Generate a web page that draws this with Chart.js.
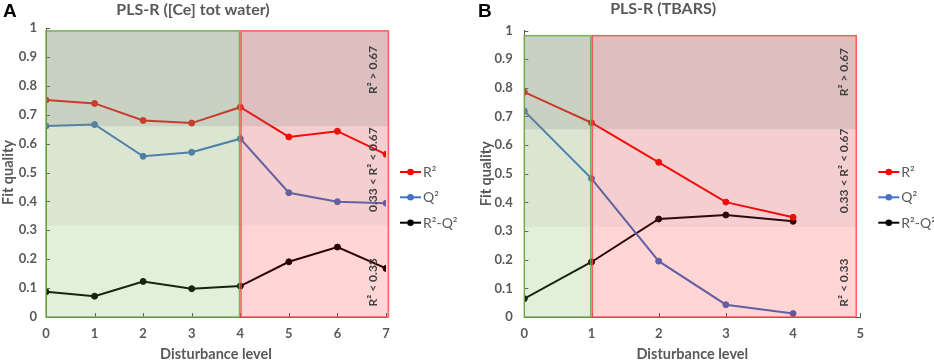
<!DOCTYPE html>
<html><head><meta charset="utf-8">
<script src="https://cdn.jsdelivr.net/npm/chart.js@4.4.1/dist/chart.umd.min.js"></script>
<style>
html,body{margin:0;padding:0;background:#fff;}
#wrap{position:relative;width:934px;height:362px;overflow:hidden;background:#fff;}
canvas{position:absolute;top:0;}
</style></head><body>
<div id="wrap">
<canvas id="cA" width="466" height="362" style="left:0"></canvas>
<canvas id="cB" width="468" height="362" style="left:466px"></canvas>
</div>
<script>
// ---- data ----
const levelsA = [0, 1, 2, 3, 4, 5, 6, 7];
const r2A   = [0.751, 0.739, 0.680, 0.671, 0.726, 0.623, 0.643, 0.563];
const q2A   = [0.661, 0.666, 0.556, 0.570, 0.617, 0.430, 0.399, 0.394];
const diffA = [0.087, 0.072, 0.123, 0.098, 0.107, 0.191, 0.242, 0.168];

const levelsB = [0, 1, 2, 3, 4];
const r2B   = [0.785, 0.678, 0.540, 0.401, 0.348];
const q2B   = [0.719, 0.483, 0.195, 0.043, 0.012];
const diffB = [0.064, 0.192, 0.342, 0.356, 0.334];

const seriesLabels = ['R²', 'Q²', 'R²-Q²'];
const seriesColors = ['#ff0000', '#4472c4', '#000000'];
const zoneNotes = ['R² > 0.67', '0.33 < R² < 0.67', 'R² < 0.33'];
const titleA = 'PLS-R ([Ce] tot water)';
const titleB = 'PLS-R (TBARS)';
const xTitle = 'Disturbance level';
const yTitle = 'Fit quality';

const FONT = 'Lato';
const GREY = '#595959';

function pts(xs, ys) { return xs.map((x, i) => ({ x: x, y: ys[i] })); }

const panelPlugin = {
  id: 'panel',
  afterDatasetsDraw(chart, args, o) {
    const ctx = chart.ctx;
    const xs = chart.scales.x, ys = chart.scales.y;
    const X = v => xs.getPixelForValue(v), Y = v => ys.getPixelForValue(v);
    ctx.save();
    // inside tick marks
    ctx.strokeStyle = GREY; ctx.lineWidth = 1;
    ctx.beginPath();
    for (let v = 0; v <= 10; v++) {
      const y = Math.round(Y(v / 10)) + 0.5;
      ctx.moveTo(X(0), y); ctx.lineTo(X(0) + 4, y);
    }
    for (let v = xs.min; v <= xs.max; v++) {
      const x = Math.round(X(v)) + 0.5;
      ctx.moveTo(x, Y(0)); ctx.lineTo(x, Y(0) - 4);
    }
    ctx.stroke();
    // shaded zones
    const x0 = X(0), xg = X(o.greenTo), xr = X(o.redTo);
    const yb = Y(0), yt = Y(o.top), ym = Y(o.mid), yl = Y(o.low);
    ctx.fillStyle = 'rgba(112,173,71,0.2)'; ctx.fillRect(x0, yt, xg - x0, yb - yt);
    ctx.fillStyle = 'rgba(255,0,0,0.165)'; ctx.fillRect(xg, yt, xr - xg, yb - yt);
    ctx.fillStyle = 'rgba(128,128,128,0.08)'; ctx.fillRect(x0, ym, xr - x0, yl - ym);
    ctx.fillStyle = 'rgba(128,128,128,0.27)'; ctx.fillRect(x0, yt, xr - x0, ym - yt);
    ctx.lineWidth = 1.5;
    ctx.strokeStyle = 'rgba(112,173,71,0.9)'; ctx.strokeRect(x0, yt, xg - x0 - 0.8, yb - yt);
    ctx.strokeStyle = 'rgba(255,70,70,0.85)'; ctx.strokeRect(xg + 0.8, yt, xr - xg - 0.8, yb - yt);
    // zone notes
    ctx.fillStyle = '#404040';
    ctx.font = 'bold 12px ' + FONT;
    ctx.textAlign = 'center'; ctx.textBaseline = 'middle';
    zoneNotes.forEach((t, i) => {
      ctx.save();
      ctx.translate(X(o.noteX), Y(o.noteY[i]));
      ctx.rotate(-Math.PI / 2);
      ctx.fillText(t, 0, 0);
      ctx.restore();
    });
    ctx.restore();
  },
  afterDraw(chart, args, o) {
    const ctx = chart.ctx;
    ctx.save();
    // panel letter
    ctx.fillStyle = '#000';
    ctx.font = 'bold 19px "Liberation Sans"';
    ctx.textAlign = 'left'; ctx.textBaseline = 'alphabetic';
    ctx.fillText(o.letter, o.letterX, 17);
    // legend
    ctx.font = '14px ' + FONT;
    ctx.textBaseline = 'middle';
    chart.data.datasets.forEach((d, i) => {
      const y = o.legY[i];
      ctx.strokeStyle = d.borderColor; ctx.lineWidth = 2;
      ctx.beginPath(); ctx.moveTo(o.legX0, y); ctx.lineTo(o.legX1, y); ctx.stroke();
      ctx.fillStyle = d.borderColor;
      ctx.beginPath(); ctx.arc((o.legX0 + o.legX1) / 2, y, 3.3, 0, Math.PI * 2); ctx.fill();
      ctx.fillStyle = GREY;
      ctx.fillText(d.label, o.legX1 + 2, y + 0.5);
    });
    ctx.restore();
  }
};

function tickFmt(v) { return String(Number(Number(v).toFixed(2))); }

function makeChart(id, cfg) {
  const datasets = [cfg.r2, cfg.q2, cfg.diff].map((vals, i) => ({
    label: seriesLabels[i],
    data: pts(cfg.levels, vals),
    borderColor: seriesColors[i],
    backgroundColor: seriesColors[i],
    pointBackgroundColor: seriesColors[i],
    pointBorderColor: seriesColors[i],
    borderWidth: 2,
    pointRadius: 3,
    pointBorderWidth: 1,
    tension: 0
  }));
  return new Chart(document.getElementById(id), {
    type: 'line',
    data: { datasets: datasets },
    options: {
      responsive: false,
      animation: false,
      devicePixelRatio: 1,
      layout: { padding: { left: 0, right: cfg.padRight, top: 0, bottom: 0 } },
      plugins: {
        legend: { display: false },
        tooltip: { enabled: false },
        title: {
          display: true, text: cfg.title, color: GREY,
          font: { family: FONT, size: 16, weight: 'bold', lineHeight: 1 },
          padding: { top: cfg.titleTop, bottom: cfg.titleBottom }
        },
        panel: cfg.panel
      },
      scales: {
        x: {
          type: 'linear', min: 0, max: cfg.xMax,
          grid: { display: false, drawTicks: false },
          border: { display: true, color: GREY, width: 1 },
          ticks: { stepSize: 1, padding: 9.2, color: GREY, font: { family: FONT, size: 13, weight: 'bold' }, callback: tickFmt },
          title: { display: true, text: xTitle, color: GREY, font: { family: FONT, size: 14.5, weight: 'bold', lineHeight: 1 }, padding: { top: 0, bottom: 0 } },
          afterFit(s) { s.height = 45; }
        },
        y: {
          min: 0, max: 1,
          grid: { display: false, drawTicks: false },
          border: { display: true, color: GREY, width: 1 },
          ticks: { stepSize: 0.1, padding: cfg.yPad, color: GREY, font: { family: FONT, size: 13, weight: 'bold' }, callback: tickFmt },
          title: { display: true, text: yTitle, color: GREY, font: { family: FONT, size: 14.5, weight: 'bold', lineHeight: 1 }, padding: { top: cfg.yTitlePad, bottom: 0 } },
          afterFit(s) { s.width = cfg.yWidth; }
        }
      }
    },
    plugins: [panelPlugin]
  });
}

makeChart('cA', {
  levels: levelsA, r2: r2A, q2: q2A, diff: diffA,
  title: titleA, xMax: 7, padRight: 80, titleTop: 2, titleBottom: 10,
  yWidth: 46, yPad: 9, yTitlePad: 1.5,
  panel: { letter: 'A', letterX: 3, greenTo: 4, redTo: 7.05, top: 0.99, mid: 0.66, low: 0.317,
           noteX: 6.74, noteY: [0.855, 0.51, 0.12],
           legX0: 400, legX1: 421, legY: [172, 197.3, 222.7] }
});

makeChart('cB', {
  levels: levelsB, r2: r2B, q2: q2B, diff: diffB,
  title: titleB, xMax: 5, padRight: 73.7, titleTop: 1, titleBottom: 13.5,
  yWidth: 58.3, yPad: 11.6, yTitlePad: 13.25,
  panel: { letter: 'B', letterX: 12, greenTo: 1, redTo: 4.94, top: 0.982, mid: 0.655, low: 0.314,
           noteX: 4.76, noteY: [0.855, 0.51, 0.12],
           legX0: 412.3, legX1: 433.3, legY: [172, 197.3, 222.7] }
});
</script>
</body></html>
